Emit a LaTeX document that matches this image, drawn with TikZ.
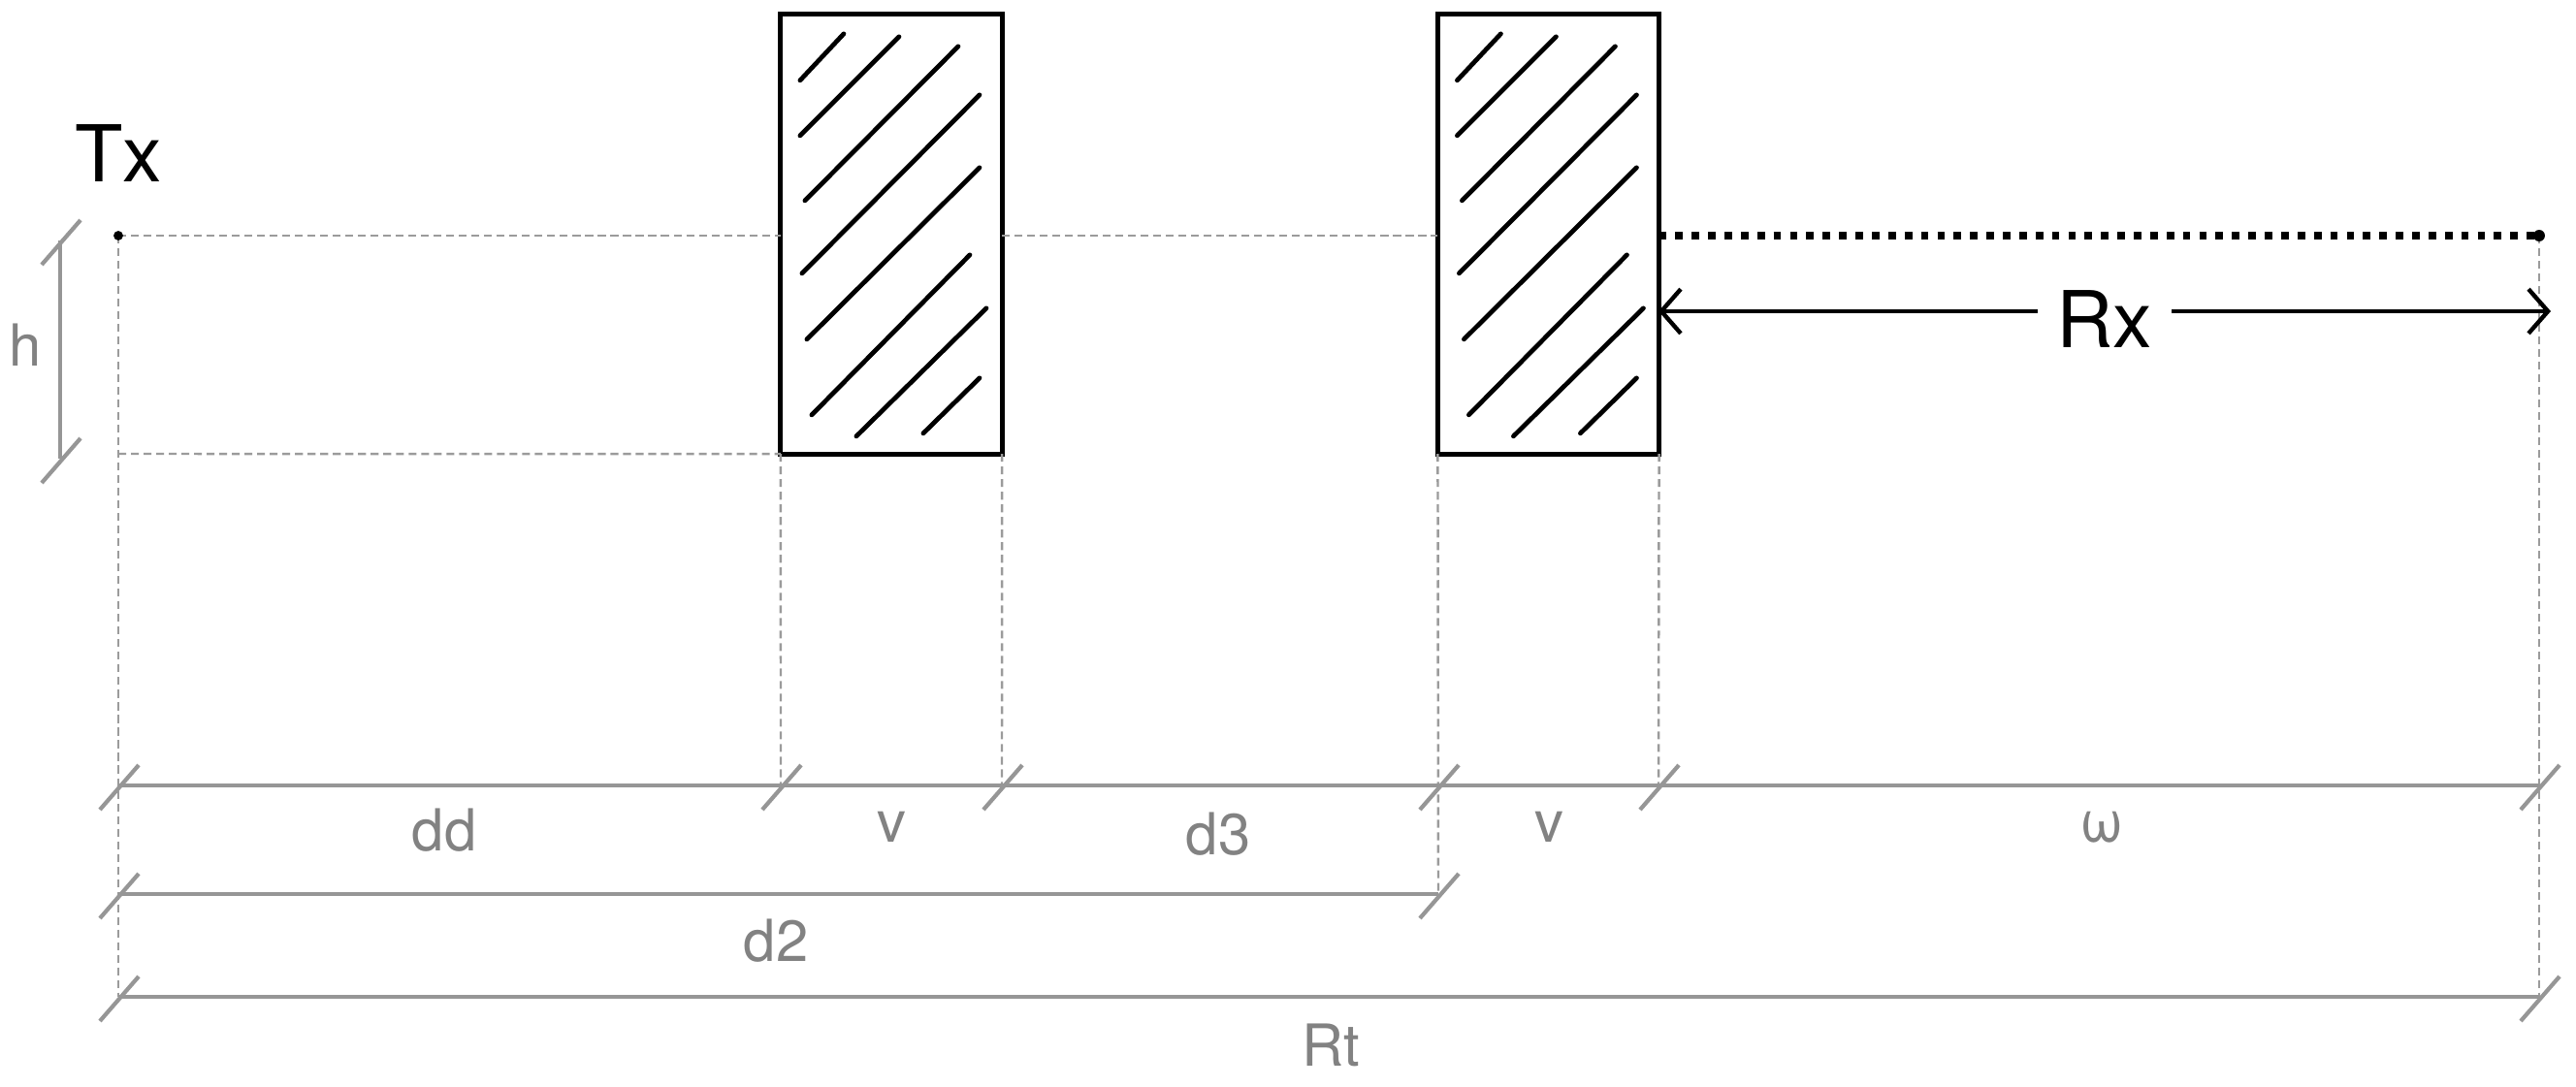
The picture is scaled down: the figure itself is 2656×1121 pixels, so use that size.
\documentclass[tikz,border=0pt]{standalone}
\usepackage{fontspec}
\setmainfont{TeX Gyre Heros}
\usetikzlibrary{arrows.meta}
\definecolor{dimgray}{RGB}{150,150,150}
\definecolor{lblgray}{RGB}{130,130,130}
\definecolor{guidegray}{RGB}{155,155,155}
\tikzset{
  blk/.style={draw=black, line width=1.45pt, fill=white, minimum width=2.28cm, minimum height=4.53cm, inner sep=0pt, outer sep=0pt},
  hatchline/.style={black, line width=1.35pt, line cap=round},
  guide/.style={guidegray, line width=0.7pt, dash pattern=on 2.3pt off 1.4pt},
  dimline/.style={dimgray, line width=1.3pt},
  tickmark/.style={dimgray, line width=1.2pt},
  lbl/.style={lblgray, font=\fontsize{17}{20}\selectfont, inner sep=0pt},
  bigtext/.style={black, font=\fontsize{23}{27}\selectfont, inner sep=0pt},
  rayline/.style={black, line width=2pt, dash pattern=on 2.2pt off 2.6pt},
  barb/.tip={Straight Barb[length=5.7pt,width=13pt]}
}
\newcommand\dimtick[1]{\draw[tickmark] ([shift={(-19,25)}]#1) -- ([shift={(21,-21)}]#1);}
\newcommand\hatchblock[1]{%
  \foreach \ax/\ay/\bx/\by in {20/68/65/20, 20/125/122/23, 25/192/183/33, 22/267/205/83, 27/335/205/158, 32/413/195/248, 78/435/212/303, 147/432/205/375}
    \draw[hatchline] ([shift={(\ax,\ay)}]#1.north west) -- ([shift={(\bx,\by)}]#1.north west);}
\begin{document}
\begin{tikzpicture}[x=0.01cm,y=-0.01cm]
\useasboundingbox (0,0) rectangle (2656,1121);
% key coordinates
\coordinate (tx) at (122,243);
\coordinate (txlow) at (122,468);
\coordinate (rxend) at (2618,243);
\coordinate (r1a) at (122,810);
\coordinate (r1b) at (805,810);
\coordinate (r1c) at (1033,810);
\coordinate (r1d) at (1483,810);
\coordinate (r1e) at (1710,810);
\coordinate (r1f) at (2618,810);
\coordinate (r2a) at (122,922);
\coordinate (r2b) at (1483,922);
\coordinate (r3a) at (122,1028);
\coordinate (r3b) at (2618,1028);
\coordinate (htop) at (62,248);
\coordinate (hbot) at (62,473);
\coordinate (rxl) at (1710,321);
\coordinate (rxr) at (2630,321);
% blocks
\node[blk] (b1) at (919,241.5) {};
\node[blk] (b2) at (1596.5,241.5) {};
% guide lines
\draw[guide] (tx) -- (tx -| b1.west);
\draw[guide] (tx -| b1.east) -- (tx -| b2.west);
\draw[guide] (txlow) -- (b1.south west);
\draw[guide] (tx) -- (r3a);
\draw[guide] (b1.south west) -- (r1b);
\draw[guide] (b1.south east) -- (r1c);
\draw[guide] (b2.south west) -- (r2b);
\draw[guide] (b2.south east) -- (r1e);
\draw[guide] (rxend) -- (r3b);
% hatching
\hatchblock{b1}
\hatchblock{b2}
% received ray
\draw[rayline] (tx -| b2.east) -- (rxend);
\fill[black] (tx) circle (1.4pt);
\fill[black] (rxend) circle (1.7pt);
% Rx arrow
\draw[black, line width=1.25pt, barb-barb] (rxl) -- node[bigtext, fill=white, inner xsep=5.6pt, inner ysep=2pt, yshift=-0.08cm] (rx) {Rx} (rxr);
% Tx label
\node[bigtext] (txl) at (122,158) {Tx};
% h dimension
\draw[dimline] (htop) -- (hbot);
\dimtick{htop}
\dimtick{hbot}
\node[lbl] (hl) at (26,356) {h};
% dimension rows
\draw[dimline] (r1a) -- (r1f);
\draw[dimline] (r2a) -- (r2b);
\draw[dimline] (r3a) -- (r3b);
\foreach \c in {r1a,r1b,r1c,r1d,r1e,r1f,r2a,r2b,r3a,r3b} {\dimtick{\c}}
% labels
\node[lbl] (ldd) at (458,856) {dd};
\node[lbl] (lv1) at (919,853) {v};
\node[lbl] (ld3) at (1256,860) {d3};
\node[lbl] (lv2) at (1597,853) {v};
\node[lbl] (lw) at (2167,853) {ω};
\node[lbl] (ld2) at (800,970) {d2};
\node[lbl] (lrt) at (1372,1078) {Rt};
\end{tikzpicture}
\end{document}
